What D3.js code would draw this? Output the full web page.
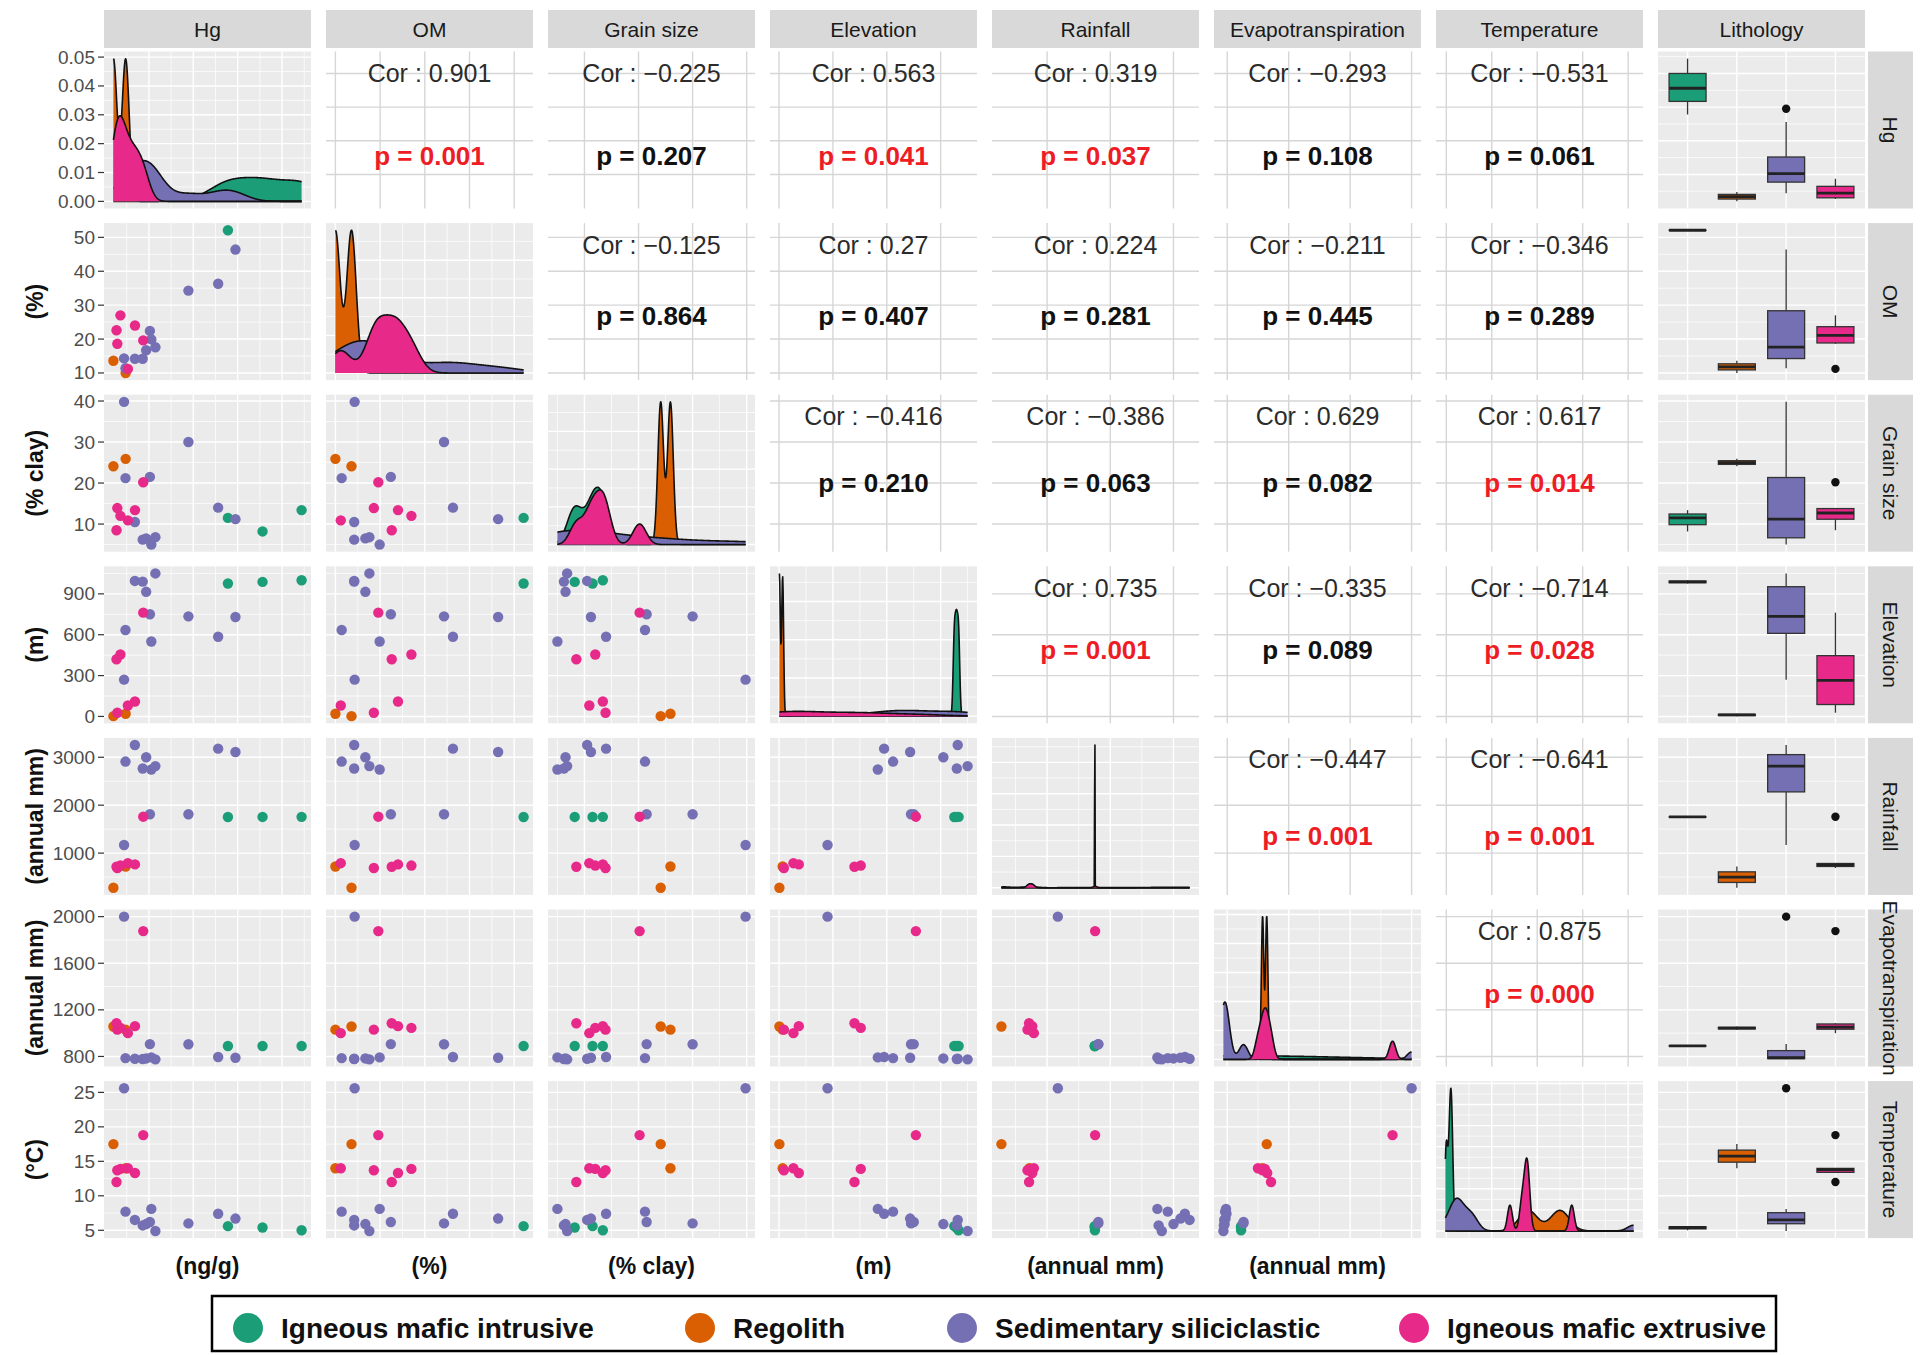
<!DOCTYPE html>
<html>
<head>
<meta charset="utf-8">
<script src="https://cdn.jsdelivr.net/npm/d3@7"></script>
<style>
  body { margin: 0; background: #ffffff; }
  svg { display: block; }
  text { font-family: "Liberation Sans", Arial, Helvetica, sans-serif; }
</style>
</head>
<body>
<svg id="chart" width="1923" height="1355"></svg>
<script>
// ---- Categories -------------------------------------------------------
const lithologyLevels = ["Igneous mafic intrusive", "Regolith", "Sedimentary siliciclastic", "Igneous mafic extrusive"];
const lithologyColors = ["#1B9E77", "#D95F02", "#7570B3", "#E7298A"];

const variableNames = ["Hg", "OM", "Grain size", "Elevation", "Rainfall", "Evapotranspiration", "Temperature"];
const xAxisTitles = ["(ng/g)", "(%)", "(% clay)", "(m)", "(annual mm)", "(annual mm)", ""];
const yAxisTitles = ["", "(%)", "(% clay)", "(m)", "(annual mm)", "(annual mm)", "(°C)"];

// ---- Samples (one entry per site) ------------------------------------
const lithology = [
  "Igneous mafic intrusive", "Igneous mafic intrusive", "Igneous mafic intrusive",
  "Regolith", "Regolith",
  "Sedimentary siliciclastic", "Sedimentary siliciclastic", "Sedimentary siliciclastic",
  "Sedimentary siliciclastic", "Sedimentary siliciclastic", "Sedimentary siliciclastic",
  "Sedimentary siliciclastic", "Sedimentary siliciclastic", "Sedimentary siliciclastic",
  "Sedimentary siliciclastic", "Sedimentary siliciclastic",
  "Igneous mafic extrusive", "Igneous mafic extrusive", "Igneous mafic extrusive",
  "Igneous mafic extrusive", "Igneous mafic extrusive", "Igneous mafic extrusive"
];
const hg = [139, 178, 222, 10, 23.8, 22, 94.5, 128, 147.5, 34.2, 23.6, 46.9, 43, 52.7, 57.3, 51.1, 43.6, 17.9, 34.3, 14.4, 13.5, 26.3];
const om = [52.1, null, null, 13.6, 10.0, 14.3, 34.3, 36.3, 46.4, 14.2, 11.4, 16.7, 14.2, 19.9, 17.6, 22.4, 19.6, 27.0, 24.0, 18.6, 22.6, 11.2];
const grainSize = [11.5, 8.2, 13.4, 24.1, 25.9, 39.8, 30.0, 14.0, 11.2, 10.5, 21.2, 6.5, 6.2, 5.0, 6.8, 21.5, 20.2, 12.0, 13.4, 13.9, 8.5, 10.9];
const elevation = [976, 988, 1000, 2, 20, 270, 735, 585, 730, 995, 635, 915, 990, 550, 1050, 750, 762, 455, 110, 27, 420, 80];
const rainfall = [1753, 1755, 1757, 277, 720, 1170, 1810, 3180, 3110, 3255, 2910, 3000, 2765, 2745, 2815, 1810, 1760, 740, 765, 690, 715, 790];
const evapotranspiration = [890, 890, 890, 1057, 1030, 2000, 905, 795, 789, 780, 786, 783, 778, 792, 775, 906, 1876, 1045, 1060, 1030, 1085, 1000];
const temperature = [5.6, 5.4, 5.0, 17.5, 14.0, 25.6, 6.0, 7.4, 6.7, 6.5, 7.7, 5.9, 5.7, 8.1, 4.9, 6.2, 18.8, 13.9, 13.3, 13.7, 12.0, 14.0];

// ---- Axis breaks ------------------------------------------------------
const densityTicks = [0, 0.01, 0.02, 0.03, 0.04, 0.05];
const hgTicks = [50, 100, 150, 200];
const omTicks = [10, 20, 30, 40, 50];
const grainTicks = [10, 20, 30, 40];
const elevationTicks = [0, 300, 600, 900];
const rainfallTicks = [1000, 2000, 3000];
const etTicks = [800, 1200, 1600, 2000];
const temperatureTicks = [5, 10, 15, 20, 25];

// ---- Pairwise correlation statistics (upper triangle, by row) ---------
const corValues = [
  [0.901, -0.225, 0.563, 0.319, -0.293, -0.531],
  [-0.125, 0.27, 0.224, -0.211, -0.346],
  [-0.416, -0.386, 0.629, 0.617],
  [0.735, -0.335, -0.714],
  [-0.447, -0.641],
  [0.875]
];
const pValues = [
  [0.001, 0.207, 0.041, 0.037, 0.108, 0.061],
  [0.864, 0.407, 0.281, 0.445, 0.289],
  [0.210, 0.063, 0.082, 0.014],
  [0.001, 0.089, 0.028],
  [0.001, 0.001],
  [0.000]
];

// ---- Layout -----------------------------------------------------------
const L = { left: 104, top: 51.5, pw: 207, ph: 157, dx: 222, dy: 171.6 };
const colX = j => L.left + j * L.dx;
const rowY = i => L.top + i * L.dy;
const pTextFrac = [0.664, 0.594, 0.5625, 0.53, 0.625, 0.54];
const corTextFrac = 0.137;

const svg = d3.select("#chart");
const columns = [hg, om, grainSize, elevation, rainfall, evapotranspiration, temperature];
const tickSets = [hgTicks, omTicks, grainTicks, elevationTicks, rainfallTicks, etTicks, temperatureTicks];
const colorOf = d3.scaleOrdinal().domain(lithologyLevels).range(lithologyColors);
const nVar = columns.length;

const valid = v => v !== null && v !== undefined && !Number.isNaN(v);
function padded(ext) { const d = ext[1] - ext[0]; return [ext[0] - 0.05 * d, ext[1] + 0.05 * d]; }
const ranges = columns.map(v => d3.extent(v.filter(valid)));
const domains = ranges.map(padded);
const xScales = domains.map((d, j) => d3.scaleLinear().domain(d).range([colX(j), colX(j) + L.pw]));
const yScales = domains.map((d, i) => d3.scaleLinear().domain(d).range([rowY(i) + L.ph, rowY(i)]));

function minorBreaks(major, domain) {
  const step = major[1] - major[0];
  const out = [];
  for (let v = major[0] - step / 2; v <= domain[1]; v += step) {
    if (v >= domain[0]) out.push(v);
  }
  return out;
}

// ---- Kernel density (Gaussian, bandwidth nrd0, binned grid) -----------
function bwNrd0(x) {
  const s = x.slice().sort(d3.ascending);
  const hi = d3.deviation(s);
  const iqr = d3.quantile(s, 0.75) - d3.quantile(s, 0.25);
  let lo = Math.min(hi, iqr / 1.34);
  if (!lo) lo = hi || Math.abs(s[0]) || 1;
  return 0.9 * lo * Math.pow(s.length, -0.2);
}
function densityCurve(values, from, to, n = 512) {
  const bw = bwNrd0(values);
  const lo = from - 4 * bw, up = to + 4 * bw;
  const step = (up - lo) / (n - 1);
  const w = new Float64Array(n);
  for (const v of values) {
    const pos = (v - lo) / step, i = Math.floor(pos), f = pos - i;
    if (i >= 0 && i < n) w[i] += (1 - f) / values.length;
    if (i + 1 >= 0 && i + 1 < n) w[i + 1] += f / values.length;
  }
  const dens = new Float64Array(n);
  const norm = 1 / (bw * Math.sqrt(2 * Math.PI));
  for (let k = 0; k < n; k++) {
    let s = 0;
    for (let m = 0; m < n; m++) {
      if (w[m] === 0) continue;
      const z = (k - m) * step / bw;
      if (Math.abs(z) < 40) s += w[m] * Math.exp(-0.5 * z * z);
    }
    dens[k] = s * norm;
  }
  return d3.range(n).map(k => {
    const t = from + (to - from) * k / (n - 1);
    const pos = (t - lo) / step;
    const i = Math.max(0, Math.min(n - 2, Math.floor(pos)));
    const f = pos - i;
    return [t, dens[i] * (1 - f) + dens[i + 1] * f];
  });
}

// ---- Box statistics (Tukey, type-7 quantiles) -------------------------
function boxStats(vals) {
  const s = vals.slice().sort(d3.ascending);
  const q1 = d3.quantile(s, 0.25), med = d3.quantile(s, 0.5), q3 = d3.quantile(s, 0.75);
  const iqr = q3 - q1;
  const lo = q1 - 1.5 * iqr, hi = q3 + 1.5 * iqr;
  const inside = s.filter(v => v >= lo && v <= hi);
  return { q1, med, q3, wlo: d3.min(inside), whi: d3.max(inside), out: s.filter(v => v < lo || v > hi) };
}

// ---- Panel background + grid -----------------------------------------
function drawGrid(g, x0, y0, xMajor, xMinor, yMajor, yMinor, white) {
  g.append("rect").attr("x", x0).attr("y", y0).attr("width", L.pw).attr("height", L.ph)
    .attr("fill", white ? "#ffffff" : "#EBEBEB");
  const col = white ? "#D6D6D6" : "#ffffff";
  const clip = (v, a, b) => v >= a - 0.01 && v <= b + 0.01;
  if (!white) {
    xMinor.filter(x => clip(x, x0, x0 + L.pw)).forEach(x => g.append("line")
      .attr("x1", x).attr("x2", x).attr("y1", y0).attr("y2", y0 + L.ph)
      .attr("stroke", col).attr("stroke-width", 0.7));
    yMinor.filter(y => clip(y, y0, y0 + L.ph)).forEach(y => g.append("line")
      .attr("x1", x0).attr("x2", x0 + L.pw).attr("y1", y).attr("y2", y)
      .attr("stroke", col).attr("stroke-width", 0.7));
  }
  xMajor.filter(x => clip(x, x0, x0 + L.pw)).forEach(x => g.append("line")
    .attr("x1", x).attr("x2", x).attr("y1", y0).attr("y2", y0 + L.ph)
    .attr("stroke", col).attr("stroke-width", 1.4));
  yMajor.filter(y => clip(y, y0, y0 + L.ph)).forEach(y => g.append("line")
    .attr("x1", x0).attr("x2", x0 + L.pw).attr("y1", y).attr("y2", y)
    .attr("stroke", col).attr("stroke-width", 1.4));
}

const panels = svg.append("g");
let hgDensityScale = null;

for (let i = 0; i < nVar; i++) {
  for (let j = 0; j <= nVar; j++) {
    const g = panels.append("g");
    const x0 = colX(j), y0 = rowY(i);
    const ys = yScales[i];
    const yMaj = tickSets[i].map(ys), yMin = minorBreaks(tickSets[i], domains[i]).map(ys);

    if (j === nVar) {
      // Lithology box plots
      const xs = d3.scalePoint().domain(lithologyLevels).range([x0, x0 + L.pw]).padding(0.6);
      drawGrid(g, x0, y0, lithologyLevels.map(xs), [], yMaj, yMin, false);
      const bw = 0.75 * xs.step();
      lithologyLevels.forEach(level => {
        const vals = columns[i].filter((v, k) => valid(v) && lithology[k] === level);
        if (!vals.length) return;
        const st = boxStats(vals);
        const cx = xs(level);
        g.append("line").attr("x1", cx).attr("x2", cx).attr("y1", ys(st.whi)).attr("y2", ys(st.q3))
          .attr("stroke", "#333").attr("stroke-width", 1.3);
        g.append("line").attr("x1", cx).attr("x2", cx).attr("y1", ys(st.q1)).attr("y2", ys(st.wlo))
          .attr("stroke", "#333").attr("stroke-width", 1.3);
        g.append("rect").attr("x", cx - bw / 2).attr("width", bw)
          .attr("y", ys(st.q3)).attr("height", Math.max(0.01, ys(st.q1) - ys(st.q3)))
          .attr("fill", colorOf(level)).attr("stroke", "#333").attr("stroke-width", 1.3);
        g.append("line").attr("x1", cx - bw / 2).attr("x2", cx + bw / 2).attr("y1", ys(st.med)).attr("y2", ys(st.med))
          .attr("stroke", "#222").attr("stroke-width", 2.8);
        st.out.forEach(v => g.append("circle").attr("cx", cx).attr("cy", ys(v)).attr("r", 4.2).attr("fill", "#111"));
      });
      continue;
    }

    const xs = xScales[j];
    const xMaj = tickSets[j].map(xs), xMin = minorBreaks(tickSets[j], domains[j]).map(xs);

    if (i === j) {
      // Diagonal: per-lithology density curves
      const curves = lithologyLevels.map(level => {
        const vals = columns[j].filter((v, k) => valid(v) && lithology[k] === level);
        return vals.length >= 2 ? { level, pts: densityCurve(vals, ranges[j][0], ranges[j][1]) } : null;
      }).filter(Boolean);
      const dmax = d3.max(curves, c => d3.max(c.pts, p => p[1]));
      const dy = d3.scaleLinear().domain([-0.05 * dmax, 1.05 * dmax]).range([y0 + L.ph, y0]);
      if (i === 0) hgDensityScale = dy;
      const dTicks = i === 0 ? densityTicks : dy.ticks(5);
      const dStep = dTicks[1] - dTicks[0];
      const dMinor = dTicks.map(t => t + dStep / 2);
      drawGrid(g, x0, y0, xMaj, xMin, dTicks.map(dy), dMinor.map(dy), false);
      const area = d3.area().x(d => xs(d[0])).y0(dy(0)).y1(d => dy(d[1]));
      const line = d3.line().x(d => xs(d[0])).y(d => dy(d[1]));
      curves.forEach(c => {
        g.append("path").attr("d", area(c.pts)).attr("fill", colorOf(c.level));
        g.append("path").attr("d", line(c.pts)).attr("fill", "none")
          .attr("stroke", "#111").attr("stroke-width", 1.6).attr("stroke-linejoin", "round");
      });
      continue;
    }

    if (j > i) {
      // Upper triangle: correlation text
      drawGrid(g, x0, y0, xMaj, xMin, yMaj, yMin, true);
      const r = corValues[i][j - i - 1];
      const p = pValues[i][j - i - 1];
      const cx = x0 + L.pw / 2;
      g.append("text").attr("x", cx).attr("y", y0 + corTextFrac * L.ph)
        .attr("text-anchor", "middle").attr("dominant-baseline", "central")
        .attr("font-size", 25).attr("fill", "#2b2b2b")
        .text("Cor : " + String(r).replace("-", "\u2212"));
      g.append("text").attr("x", cx).attr("y", y0 + pTextFrac[i] * L.ph)
        .attr("text-anchor", "middle").attr("dominant-baseline", "central")
        .attr("font-size", 26).attr("font-weight", "bold")
        .attr("fill", p < 0.05 ? "#EE1C25" : "#111111")
        .text("p = " + d3.format(".3f")(p));
      continue;
    }

    // Lower triangle: scatter
    drawGrid(g, x0, y0, xMaj, xMin, yMaj, yMin, false);
    const idx = d3.range(lithology.length).filter(k => valid(columns[j][k]) && valid(columns[i][k]));
    g.selectAll("circle").data(idx).join("circle")
      .attr("cx", k => xs(columns[j][k]))
      .attr("cy", k => ys(columns[i][k]))
      .attr("r", 5.2)
      .attr("fill", k => colorOf(lithology[k]));
  }
}

// ---- Strips -----------------------------------------------------------
const stripNames = variableNames.concat(["Lithology"]);
stripNames.forEach((name, j) => {
  svg.append("rect").attr("x", colX(j)).attr("y", 10).attr("width", L.pw).attr("height", 38).attr("fill", "#D9D9D9");
  svg.append("text").attr("x", colX(j) + L.pw / 2).attr("y", 29)
    .attr("text-anchor", "middle").attr("dominant-baseline", "central")
    .attr("font-size", 21).attr("fill", "#1A1A1A").text(name);
});
variableNames.forEach((name, i) => {
  const x = colX(nVar) + L.pw + 3, cy = rowY(i) + L.ph / 2;
  svg.append("rect").attr("x", x).attr("y", rowY(i)).attr("width", 45).attr("height", L.ph).attr("fill", "#D9D9D9");
  svg.append("text").attr("transform", `translate(${x + 22.5},${cy}) rotate(90)`)
    .attr("text-anchor", "middle").attr("dominant-baseline", "central")
    .attr("font-size", 21).attr("fill", "#1A1A1A").text(name);
});

// ---- Left axes --------------------------------------------------------
for (let i = 0; i < nVar; i++) {
  const scale = i === 0 ? hgDensityScale : yScales[i];
  const vals = i === 0 ? densityTicks : tickSets[i];
  const fmt = i === 0 ? d3.format(".2f") : d3.format("d");
  vals.forEach(v => {
    const y = scale(v);
    svg.append("line").attr("x1", L.left - 6).attr("x2", L.left).attr("y1", y).attr("y2", y)
      .attr("stroke", "#333").attr("stroke-width", 1.2);
    svg.append("text").attr("x", L.left - 9).attr("y", y)
      .attr("text-anchor", "end").attr("dominant-baseline", "central")
      .attr("font-size", 19).attr("fill", "#4D4D4D").text(fmt(v));
  });
  if (yAxisTitles[i]) {
    svg.append("text").attr("transform", `translate(35,${rowY(i) + L.ph / 2}) rotate(-90)`)
      .attr("text-anchor", "middle").attr("dominant-baseline", "central")
      .attr("font-size", 23).attr("font-weight", "bold").attr("fill", "#111").text(yAxisTitles[i]);
  }
}

// ---- Bottom titles ----------------------------------------------------
xAxisTitles.forEach((t, j) => {
  if (!t) return;
  svg.append("text").attr("x", colX(j) + L.pw / 2).attr("y", 1274)
    .attr("text-anchor", "middle").attr("font-size", 23).attr("font-weight", "bold")
    .attr("fill", "#111").text(t);
});

// ---- Legend -----------------------------------------------------------
const legend = svg.append("g");
legend.append("rect").attr("x", 212).attr("y", 1296).attr("width", 1564).attr("height", 55)
  .attr("fill", "#fff").attr("stroke", "#000").attr("stroke-width", 2.5);
const legendX = [248, 700, 962, 1414];
lithologyLevels.forEach((level, k) => {
  legend.append("circle").attr("cx", legendX[k]).attr("cy", 1328).attr("r", 15).attr("fill", colorOf(level));
  legend.append("text").attr("x", legendX[k] + 33).attr("y", 1338)
    .attr("font-size", 28).attr("font-weight", "bold").attr("fill", "#111").text(level);
});
</script>
</body>
</html>
